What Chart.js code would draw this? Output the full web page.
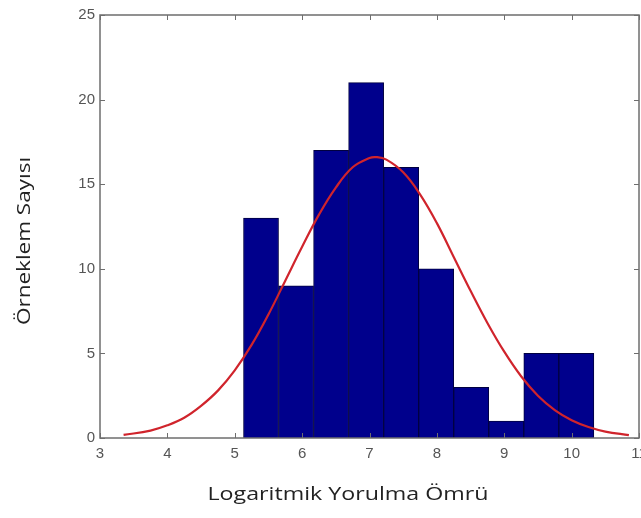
<!DOCTYPE html>
<html>
<head>
	<title>Histogram</title>
	<script src="https://cdn.jsdelivr.net/npm/chart.js"></script>
	<style>
		body { margin: 0; background: #fff; }
		#wrap { width: 641px; height: 518px; }
	</style>
</head>
<body>
	<div id="wrap">
		<canvas id="myChart" width="641" height="518"></canvas>
	</div>
</body>

<script>
    // histogram bins (centres) and counts
    const binCenters = [5.39, 5.91, 6.43, 6.95, 7.47, 7.99, 8.51, 9.03, 9.55, 10.07];
    const counts = [13, 9, 17, 21, 16, 10, 3, 1, 5, 5];

    // red fitted curve
    const curveX = [3.35, 3.75, 4.0, 4.25, 4.5, 4.75, 5.0, 5.25, 5.5, 5.75, 6.0, 6.25, 6.5, 6.75, 7.0, 7.1,
                    7.25, 7.5, 7.75, 8.0, 8.25, 8.5, 8.75, 9.0, 9.25, 9.5, 9.75, 10.0, 10.25, 10.5, 10.85];
    const curveY = [0.18, 0.44, 0.75, 1.2, 1.9, 2.8, 4.0, 5.5, 7.3, 9.3, 11.3, 13.2, 14.8, 16.0, 16.55, 16.6,
                    16.45, 15.7, 14.4, 12.7, 10.7, 8.7, 6.8, 5.1, 3.65, 2.5, 1.65, 1.05, 0.65, 0.38, 0.17];

    const xTicks = [3, 4, 5, 6, 7, 8, 9, 10, 11];
    const yTicks = [0, 5, 10, 15, 20, 25];

    const xTitle = 'Logaritmik Yorulma Ömrü';
    const yTitle = 'Örneklem Sayısı';

    // matlab style box with inward ticks on all four sides
    const boxPlugin = {
      id: 'box',
      afterDraw(chart) {
        const c = chart.ctx, a = chart.chartArea;
        const xs = chart.scales.x, ys = chart.scales.y;
        c.save();
        c.strokeStyle = '#6e6e6e';
        c.lineWidth = 1.5;
        c.strokeRect(a.left, a.top, a.right - a.left, a.bottom - a.top);
        c.lineWidth = 1;
        c.beginPath();
        xTicks.forEach(v => {
          const px = Math.round(xs.getPixelForValue(v)) + 0.5;
          c.moveTo(px, a.bottom); c.lineTo(px, a.bottom - 5);
          c.moveTo(px, a.top); c.lineTo(px, a.top + 5);
        });
        yTicks.forEach(v => {
          const py = Math.round(ys.getPixelForValue(v)) + 0.5;
          c.moveTo(a.left, py); c.lineTo(a.left + 5, py);
          c.moveTo(a.right, py); c.lineTo(a.right - 5, py);
        });
        c.stroke();

        // axis titles, the original's lettering is a bit wide
        c.fillStyle = '#222';
        c.font = '18px "Open Sans"';
        c.textAlign = 'center';
        c.textBaseline = 'alphabetic';
        c.save();
        c.translate(348, 500);
        c.scale(1.29, 1);
        c.fillText(xTitle, 0, 0);
        c.restore();
        c.save();
        c.translate(30, 241);
        c.rotate(-Math.PI / 2);
        c.scale(1.25, 1);
        c.fillText(yTitle, 0, 0);
        c.restore();
        c.restore();
      }
    };

    const ctx = document.getElementById('myChart');

    new Chart(ctx, {
      type: 'bar',
      data: {
        datasets: [
          {
            type: 'line',
            data: curveX.map((x, i) => ({x: x, y: curveY[i]})),
            borderColor: '#d0242c',
            borderWidth: 2.2,
            pointRadius: 0,
            tension: 0.4,
            fill: false,
            order: 0
          },
          {
            type: 'bar',
            data: binCenters.map((x, i) => ({x: x, y: counts[i]})),
            backgroundColor: '#00008c',
            borderColor: '#000040',
            borderWidth: 1,
            barPercentage: 1,
            categoryPercentage: 1,
            order: 1
          }
        ]
      },
      options: {
        responsive: false,
        animation: false,
        layout: { padding: { top: 15, right: 2, left: 0, bottom: 0 } },
        plugins: { legend: { display: false }, tooltip: { enabled: false } },
        scales: {
          x: {
            type: 'linear',
            min: 3, max: 11,
            offset: false,
            grid: { display: false, drawTicks: false },
            border: { display: false },
            ticks: { stepSize: 1, padding: 7, color: '#555', font: { family: 'Liberation Sans', size: 15 }, maxRotation: 0 },
            title: { display: false },
            afterFit(s) { s.height = 80; s.paddingLeft = 0; s.paddingRight = 0; }
          },
          y: {
            min: 0, max: 25,
            grid: { display: false, drawTicks: false },
            border: { display: false },
            ticks: { stepSize: 5, padding: 5, color: '#555', font: { family: 'Liberation Sans', size: 15 } },
            title: { display: false },
            afterFit(s) { s.width = 100; s.paddingTop = 0; s.paddingBottom = 0; }
          }
        }
      },
      plugins: [boxPlugin]
    });
</script>
</html>
